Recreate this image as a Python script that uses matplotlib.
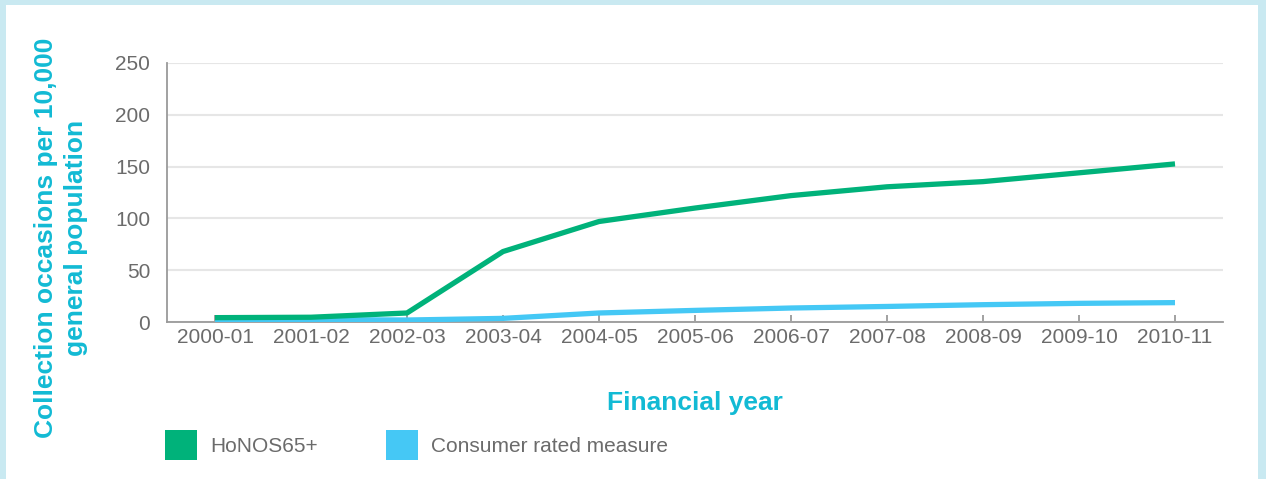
import matplotlib.pyplot as plt
from matplotlib.patches import Patch, Rectangle

# Data
years = ['2000-01', '2001-02', '2002-03', '2003-04', '2004-05', '2005-06',
         '2006-07', '2007-08', '2008-09', '2009-10', '2010-11']
honos65 = [4.2, 4.6, 8.7, 68, 97, 110, 122, 130.5, 135.5, 144, 152.6]
consumer = [2.3, 2.3, 1.9, 3.5, 8.7, 11.2, 13.5, 15, 16.7, 18, 18.7]

green = '#00b27a'
blue = '#45c8f5'
cyan = '#12bad4'
grey_text = '#6b6b6b'

plt.rcParams['font.family'] = ['Liberation Sans', 'DejaVu Sans']

fig = plt.figure(figsize=(12.66, 4.79), dpi=100)
fig.patch.set_facecolor('#c9e9f1')
# white panel inside the light blue frame
fig.patches.append(Rectangle((6 / 1266, 0), (1258 - 6) / 1266, 474 / 479,
                             transform=fig.transFigure, facecolor='white',
                             edgecolor='none', zorder=-5))

ax = fig.add_axes([167 / 1266, (479 - 322) / 479, (1223 - 167) / 1266, (322 - 63) / 479])
ax.set_facecolor('none')
ax.set_zorder(2)

x = range(len(years))
ax.plot(x, consumer, color=blue, lw=3.8, solid_capstyle='butt', zorder=3)
ax.plot(x, honos65, color=green, lw=3.8, solid_capstyle='butt', zorder=4)

ax.set_xlim(-0.5, len(years) - 0.5)
ax.set_ylim(0, 250)
ax.set_yticks([0, 50, 100, 150, 200, 250])
ax.set_xticks(list(x))
ax.set_xticklabels(years)
ax.yaxis.grid(True, color='#e6e6e6', lw=1.5)
ax.set_axisbelow(True)

for s in ['top', 'right']:
    ax.spines[s].set_visible(False)
for s in ['left', 'bottom']:
    ax.spines[s].set_color('#9a9a9a')
    ax.spines[s].set_linewidth(1.3)

ax.tick_params(axis='y', length=0, pad=12, labelsize=15, labelcolor=grey_text)
ax.tick_params(axis='x', direction='in', length=5, width=1.3, color='#9a9a9a',
               pad=4, labelsize=15, labelcolor=grey_text)

ax.set_xlabel('Financial year', fontsize=19, fontweight='bold', color=cyan, labelpad=32)
fig.text(61 / 1266, (479 - 238) / 479,
         'Collection occasions per 10,000\ngeneral population',
         rotation=90, ha='center', va='center', fontsize=19, fontweight='bold',
         color=cyan, linespacing=1.35)

handles = [Patch(facecolor=green, edgecolor='none'),
           Patch(facecolor=blue, edgecolor='none')]
fig.legend(handles, ['HoNOS65+', 'Consumer rated measure'],
           loc='center left', bbox_to_anchor=(165 / 1266, (479 - 445) / 479),
           ncol=2, frameon=False, fontsize=15, labelcolor=grey_text,
           handlelength=1.55, handleheight=1.9, handletextpad=0.6,
           columnspacing=3.3, borderpad=0, borderaxespad=0)

fig.savefig('out.png', dpi=100)
